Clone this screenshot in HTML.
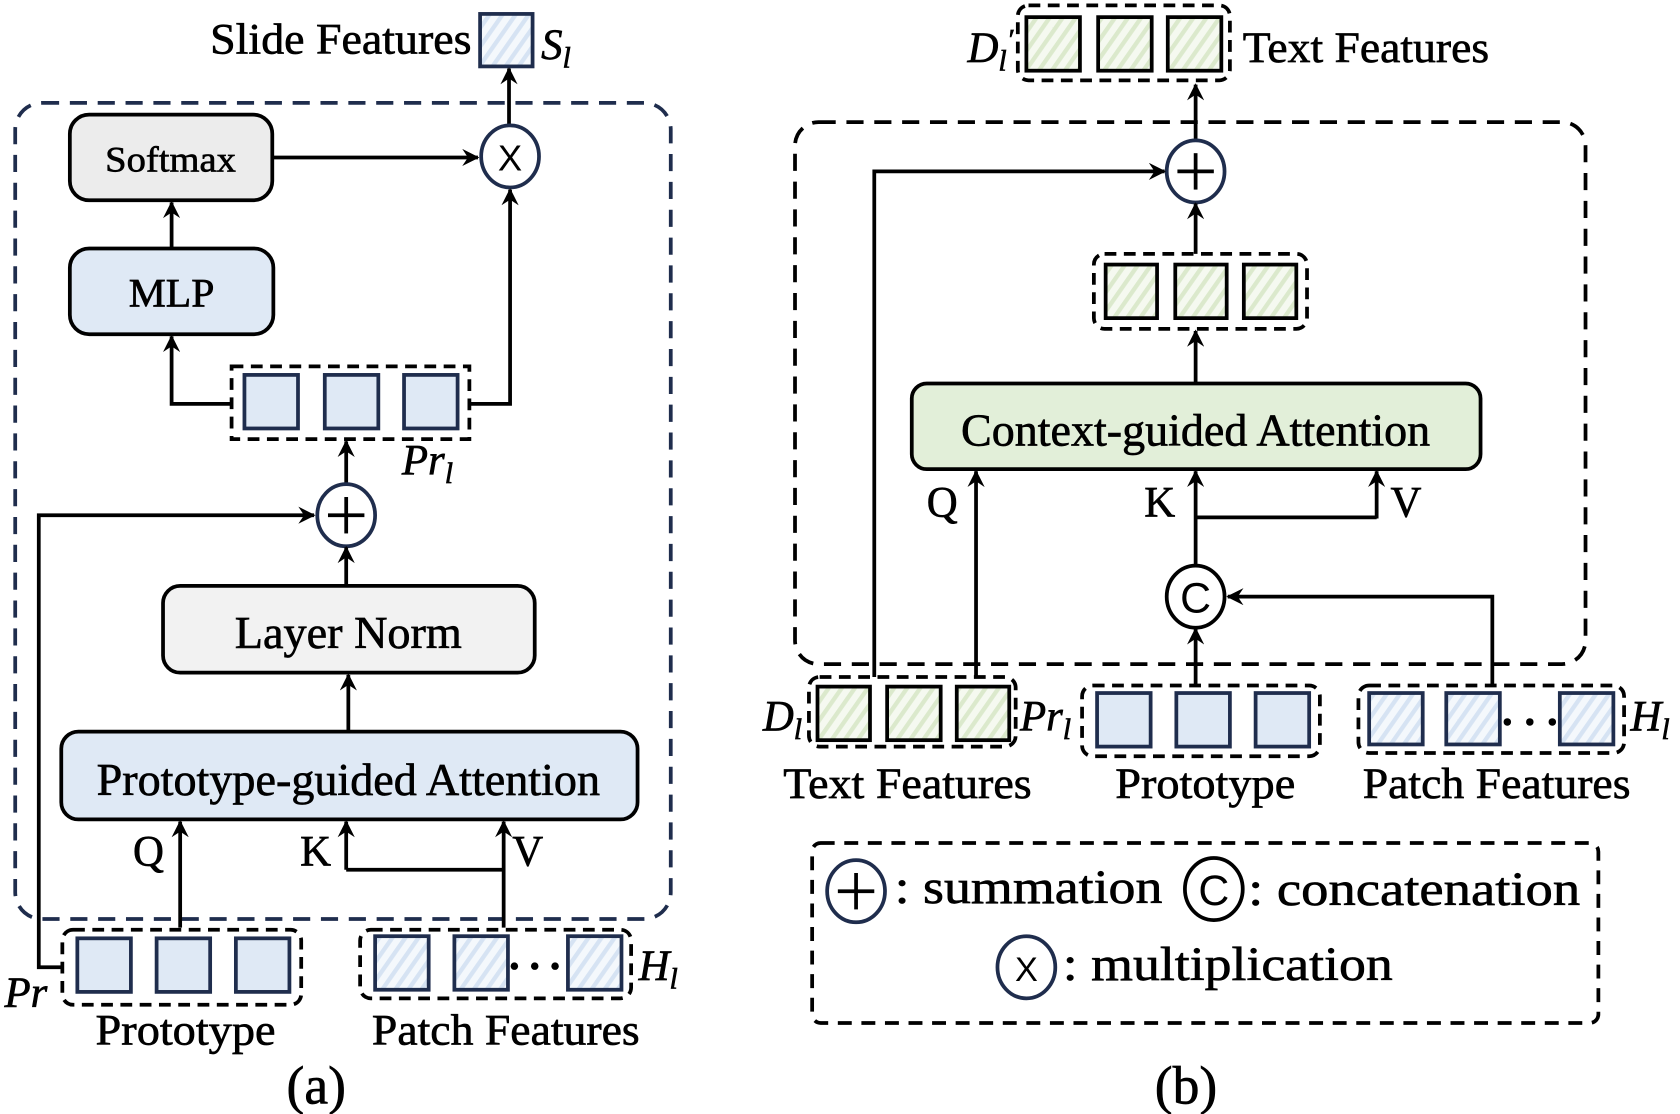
<!DOCTYPE html>
<html><head><meta charset="utf-8"><style>html,body{margin:0;padding:0;background:#fff}svg{display:block}svg text{font-family:"Liberation Serif","Times New Roman",serif}svg text.s{font-family:"Liberation Sans",sans-serif}</style></head>
<body>
<svg width="1680" height="1114" viewBox="0 0 1568 1040" xmlns="http://www.w3.org/2000/svg">
<defs>
<pattern id="hb" width="10" height="10" patternUnits="userSpaceOnUse" patternTransform="rotate(35)"><rect width="10" height="10" fill="#f4f8fc"/><rect width="4" height="10" fill="#d6e3f3"/></pattern>
<pattern id="hg" width="10" height="10" patternUnits="userSpaceOnUse" patternTransform="rotate(35)"><rect width="10" height="10" fill="#f5f9f0"/><rect width="4" height="10" fill="#dbe9cc"/></pattern>
<marker id="a" viewBox="0 0 12 12" refX="11" refY="6" markerWidth="18" markerHeight="16" markerUnits="userSpaceOnUse" orient="auto"><path d="M0,0 L12,6 L0,12 L4,6 Z" fill="#000"/></marker>
</defs>
<g fill="none" stroke="#000" stroke-width="3.5">
<!-- LEFT -->
<rect x="14" y="96" width="612" height="762" rx="25" stroke="#1f2d4d" stroke-dasharray="16,10"/>
<rect x="448" y="13" width="49" height="49" fill="url(#hb)" stroke="#1f2d4d"/>
<line x1="475" y1="118" x2="475" y2="64" marker-end="url(#a)"/>
<rect x="65" y="107" width="189" height="80" rx="18" fill="#ececec"/>
<line x1="254" y1="147" x2="446" y2="147" marker-end="url(#a)"/>
<ellipse cx="476" cy="146" rx="27" ry="29" fill="#fff" stroke="#1f2d4d"/>
<rect x="65" y="232" width="190" height="80" rx="18" fill="#dfe9f5"/>
<line x1="160" y1="232" x2="160" y2="189" marker-end="url(#a)"/>
<rect x="216" y="342" width="222" height="68" stroke-dasharray="11,7"/>
<rect x="228" y="350" width="50" height="50" fill="#dfe9f5" stroke="#1f2d4d"/>
<rect x="303" y="350" width="50" height="50" fill="#dfe9f5" stroke="#1f2d4d"/>
<rect x="377" y="350" width="50" height="50" fill="#dfe9f5" stroke="#1f2d4d"/>
<polyline points="216,377 160,377 160,314" marker-end="url(#a)"/>
<polyline points="438,377 476,377 476,177" marker-end="url(#a)"/>
<line x1="323" y1="453" x2="323" y2="412" marker-end="url(#a)"/>
<ellipse cx="323" cy="481" rx="27" ry="29" fill="#fff" stroke="#1f2d4d"/>
<line x1="323" y1="464" x2="323" y2="498"/><line x1="306" y1="481" x2="340" y2="481"/>
<polyline points="58,903 36,903 36,481 293,481" marker-end="url(#a)"/>
<rect x="152" y="547" width="347" height="81" rx="16" fill="#f2f2f2"/>
<line x1="323" y1="547" x2="323" y2="511" marker-end="url(#a)"/>
<line x1="325" y1="683" x2="325" y2="630" marker-end="url(#a)"/>
<rect x="57" y="683" width="538" height="82" rx="16" fill="#dfe9f5"/>
<line x1="168" y1="866" x2="168" y2="767" marker-end="url(#a)"/>
<line x1="323" y1="812" x2="323" y2="767" marker-end="url(#a)"/>
<polyline points="323,812 470,812"/>
<line x1="470" y1="866" x2="470" y2="767" marker-end="url(#a)"/>
<rect x="58" y="868" width="223" height="70" rx="10" stroke-dasharray="11,7"/>
<rect x="72" y="876" width="50" height="50" fill="#dfe9f5" stroke="#1f2d4d"/>
<rect x="146" y="876" width="50" height="50" fill="#dfe9f5" stroke="#1f2d4d"/>
<rect x="220" y="876" width="50" height="50" fill="#dfe9f5" stroke="#1f2d4d"/>
<rect x="336" y="868" width="253" height="64" rx="10" stroke-dasharray="11,7"/>
<rect x="350" y="874" width="50" height="50" fill="url(#hb)" stroke="#1f2d4d"/>
<rect x="424" y="874" width="50" height="50" fill="url(#hb)" stroke="#1f2d4d"/>
<rect x="530" y="874" width="50" height="50" fill="url(#hb)" stroke="#1f2d4d"/>
<!-- RIGHT -->
<rect x="742" y="114" width="738" height="506" rx="22" stroke-dasharray="16,10"/>
<rect x="950" y="5" width="198" height="70" rx="10" stroke-dasharray="11,7"/>
<rect x="958" y="16" width="50" height="50" fill="url(#hg)"/>
<rect x="1025" y="16" width="50" height="50" fill="url(#hg)"/>
<rect x="1090" y="16" width="50" height="50" fill="url(#hg)"/>
<line x1="1116" y1="132" x2="1116" y2="79" marker-end="url(#a)"/>
<ellipse cx="1116" cy="160" rx="27" ry="29" fill="#fff" stroke="#1f2d4d"/>
<line x1="1116" y1="143" x2="1116" y2="177"/><line x1="1099" y1="160" x2="1133" y2="160"/>
<polyline points="816,632 816,160 1087,160" marker-end="url(#a)"/>
<line x1="1116" y1="237" x2="1116" y2="190" marker-end="url(#a)"/>
<rect x="1021" y="237" width="199" height="70" rx="10" stroke-dasharray="11,7"/>
<rect x="1032" y="247" width="48" height="50" fill="url(#hg)"/>
<rect x="1097" y="247" width="48" height="50" fill="url(#hg)"/>
<rect x="1161" y="247" width="49" height="50" fill="url(#hg)"/>
<line x1="1116" y1="358" x2="1116" y2="309" marker-end="url(#a)"/>
<rect x="851" y="358" width="531" height="80" rx="14" fill="#e2efd9"/>
<line x1="911" y1="632" x2="911" y2="440" marker-end="url(#a)"/>
<line x1="1116" y1="530" x2="1116" y2="440" marker-end="url(#a)"/>
<polyline points="1116,483 1285,483"/>
<line x1="1285" y1="484" x2="1285" y2="440" marker-end="url(#a)"/>
<line x1="1116" y1="640" x2="1116" y2="587" marker-end="url(#a)"/>
<ellipse cx="1116" cy="557" rx="27" ry="29" fill="#fff"/>
<polyline points="1393,640 1393,557 1146,557" marker-end="url(#a)"/>
<rect x="755" y="632" width="193" height="65" rx="10" stroke-dasharray="11,7"/>
<rect x="763" y="641" width="49" height="50" fill="url(#hg)"/>
<rect x="828" y="641" width="50" height="50" fill="url(#hg)"/>
<rect x="893" y="641" width="49" height="50" fill="url(#hg)"/>
<rect x="1010" y="640" width="222" height="66" rx="10" stroke-dasharray="11,7"/>
<rect x="1024" y="647" width="50" height="50" fill="#dfe9f5" stroke="#1f2d4d"/>
<rect x="1098" y="647" width="50" height="50" fill="#dfe9f5" stroke="#1f2d4d"/>
<rect x="1172" y="647" width="50" height="50" fill="#dfe9f5" stroke="#1f2d4d"/>
<rect x="1268" y="640" width="248" height="63" rx="10" stroke-dasharray="11,7"/>
<rect x="1278" y="647" width="50" height="48" fill="url(#hb)" stroke="#1f2d4d"/>
<rect x="1350" y="647" width="50" height="48" fill="url(#hb)" stroke="#1f2d4d"/>
<rect x="1456" y="647" width="50" height="48" fill="url(#hb)" stroke="#1f2d4d"/>
<rect x="758" y="787" width="734" height="168" rx="8" stroke-dasharray="13,9"/>
<ellipse cx="799" cy="832" rx="27" ry="29" stroke="#1f2d4d"/>
<line x1="799" y1="815" x2="799" y2="849"/><line x1="782" y1="832" x2="816" y2="832"/>
<ellipse cx="1133" cy="830" rx="27" ry="29"/>
<ellipse cx="958" cy="903" rx="27" ry="29" stroke="#1f2d4d"/>
</g>
<g fill="#000">
<circle cx="480" cy="902" r="3.5"/><circle cx="499" cy="902" r="3.5"/><circle cx="518" cy="902" r="3.5"/>
<circle cx="1407" cy="674" r="3.5"/><circle cx="1428" cy="674" r="3.5"/><circle cx="1449" cy="674" r="3.5"/>
</g>
<g font-size="40" fill="#000" stroke="#000" stroke-width="0.6">
<text x="196" y="50" textLength="244" lengthAdjust="spacingAndGlyphs">Slide Features</text>
<text x="505" y="55" font-style="italic">S<tspan font-size="28" dy="8">l</tspan></text>
<text x="159" y="160" text-anchor="middle" font-size="34" textLength="122" lengthAdjust="spacingAndGlyphs">Softmax</text>
<text x="160" y="286" text-anchor="middle" font-size="38" textLength="80" lengthAdjust="spacingAndGlyphs">MLP</text>
<text x="375" y="443" font-style="italic">Pr<tspan font-size="28" dy="8">l</tspan></text>
<text x="325" y="605" text-anchor="middle" font-size="42" textLength="212" lengthAdjust="spacingAndGlyphs">Layer Norm</text>
<text x="325" y="742" text-anchor="middle" font-size="42" textLength="470" lengthAdjust="spacingAndGlyphs">Prototype-guided Attention</text>
<text x="124" y="808">Q</text><text x="280" y="808">K</text><text x="478" y="808">V</text>
<text x="4" y="940" font-style="italic">Pr</text>
<text x="596" y="915" font-style="italic">H<tspan font-size="28" dy="8">l</tspan></text>
<text x="173" y="975" text-anchor="middle" textLength="168" lengthAdjust="spacingAndGlyphs">Prototype</text>
<text x="472" y="975" text-anchor="middle" textLength="250" lengthAdjust="spacingAndGlyphs">Patch Features</text>
<text x="295" y="1030" text-anchor="middle" font-size="50">(a)</text>
<text class="s" x="476" y="159" text-anchor="middle" font-size="34" stroke-width="0">X</text>
<text x="903" y="58" font-style="italic">D<tspan font-size="28" dy="8">l</tspan><tspan dy="-20" font-size="28">′</tspan></text>
<text x="1160" y="58" textLength="230" lengthAdjust="spacingAndGlyphs">Text Features</text>
<text x="1116" y="416" text-anchor="middle" font-size="42" textLength="438" lengthAdjust="spacingAndGlyphs">Context-guided Attention</text>
<text x="865" y="482">Q</text><text x="1068" y="482">K</text><text x="1298" y="482">V</text>
<text class="s" x="1116" y="572" text-anchor="middle" font-size="40" stroke-width="0">C</text>
<text x="712" y="682" font-style="italic">D<tspan font-size="28" dy="8">l</tspan></text>
<text x="952" y="682" font-style="italic">Pr<tspan font-size="28" dy="8">l</tspan></text>
<text x="1522" y="682" font-style="italic">H<tspan font-size="28" dy="8">l</tspan></text>
<text x="847" y="745" text-anchor="middle" textLength="232" lengthAdjust="spacingAndGlyphs">Text Features</text>
<text x="1125" y="745" text-anchor="middle" textLength="168" lengthAdjust="spacingAndGlyphs">Prototype</text>
<text x="1397" y="745" text-anchor="middle" textLength="250" lengthAdjust="spacingAndGlyphs">Patch Features</text>
<text x="835" y="843" font-size="44" textLength="250" lengthAdjust="spacingAndGlyphs">: summation</text>
<text class="s" x="1133" y="845" text-anchor="middle" font-size="40" stroke-width="0">C</text>
<text x="1165" y="845" font-size="44" textLength="310" lengthAdjust="spacingAndGlyphs">: concatenation</text>
<text class="s" x="958" y="916" text-anchor="middle" font-size="32" stroke-width="0">X</text>
<text x="992" y="915" font-size="44" textLength="308" lengthAdjust="spacingAndGlyphs">: multiplication</text>
<text x="1107" y="1030" text-anchor="middle" font-size="50">(b)</text>
</g>
</svg>
</body></html>
